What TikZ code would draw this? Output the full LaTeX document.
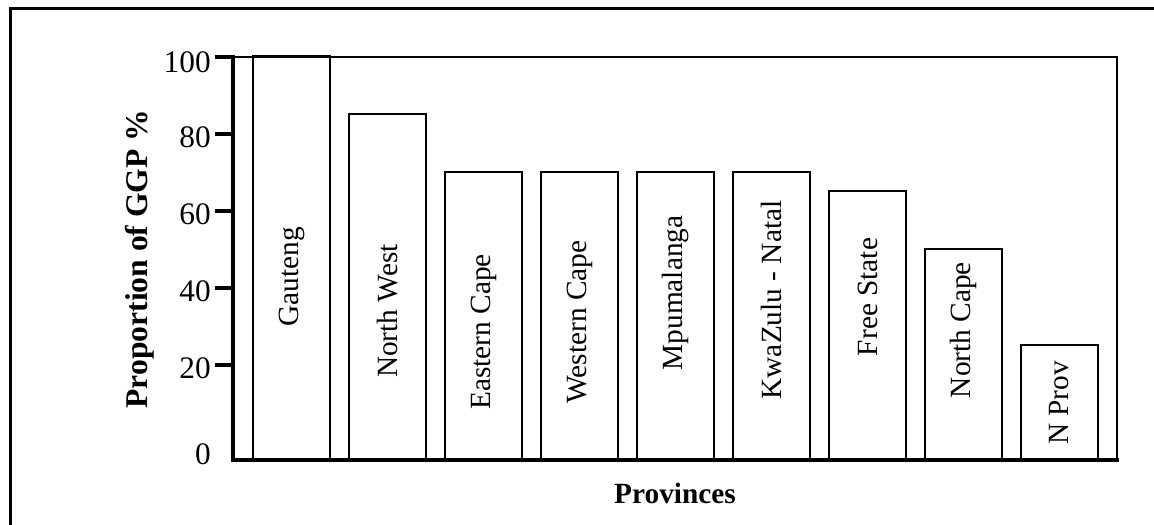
\documentclass[tikz,border=0pt]{standalone}
\usepackage{fontspec}
\setmainfont{Liberation Serif}
\usepackage{tikz}
\usetikzlibrary{positioning}

\tikzset{
	bar/.style={draw=black, line width=1.5pt, fill=white},
	barlabel/.style={rotate=90, inner sep=0pt, font=\fontsize{22}{26}\selectfont},
	ticklabel/.style={anchor=east, inner sep=0pt, font=\fontsize{23.5}{27}\selectfont},
	axistitle/.style={inner sep=0pt, font=\fontsize{22}{26}\selectfont\bfseries}
}

\begin{document}
\begin{tikzpicture}[x=0.75pt, y=-0.75pt]
			\useasboundingbox (0,0) rectangle (1154,525);
			
			% frame
			\draw[line width=2.25pt] (10,525) -- (10,8) -- (1154,8);
			
			% bars
			\draw[bar] (253,460) rectangle (330,56);
			\draw[bar] (349,460) rectangle (426,114);
			\draw[bar] (445,460) rectangle (522,172);
			\draw[bar] (541,460) rectangle (618,172);
			\draw[bar] (637,460) rectangle (714,172);
			\draw[bar] (733,460) rectangle (810,172);
			\draw[bar] (829,460) rectangle (906,191);
			\draw[bar] (925,460) rectangle (1002,249);
			\draw[bar] (1021,460) rectangle (1098,345);
			
			% plot box and axes
			\draw[line width=1.5pt] (233,57) -- (1117,57) -- (1117,460);
			\draw[line width=3pt, line cap=rect] (233,57) -- (233,460) -- (1117,460);
			\draw[line width=3pt] (215,57) -- (233,57);
			\draw[line width=3pt] (215,134) -- (233,134);
			\draw[line width=3pt] (215,211) -- (233,211);
			\draw[line width=3pt] (215,288) -- (233,288);
			\draw[line width=3pt] (215,365) -- (233,365);
			
			% tick labels
			\node[ticklabel] (t100) at (211,62) {100};
			\node[ticklabel] (t80) at (211,137) {80};
			\node[ticklabel] (t60) at (211,214) {60};
			\node[ticklabel] (t40) at (211,291) {40};
			\node[ticklabel] (t20) at (211,368) {20};
			\node[ticklabel] (t0) at (211,454) {0};
			
			% bar labels
			\node[barlabel] (gauteng) at (291.5,277) {Gauteng};
			\node[barlabel] (northwest) at (387.5,311) {North West};
			\node[barlabel] (easterncape) at (483.5,332) {Eastern Cape};
			\node[barlabel] (westerncape) at (579.5,322) {Western Cape};
			\node[barlabel] (mpumalanga) at (675.5,293) {Mpumalanga};
			\node[barlabel] (kwazulu) at (771.5,300) {KwaZulu - Natal};
			\node[barlabel] (freestate) at (867.5,297) {Free State};
			\node[barlabel] (northcape) at (963.5,330) {North Cape};
			\node[barlabel] (nprov) at (1059.5,403) {N Prov};
			
			% axis titles
			\node[axistitle, rotate=90, font=\fontsize{23.7}{27}\selectfont\bfseries] (ytitle) at (140,259) {Proportion of GGP \%};
			\node[axistitle] (xtitle) at (675,493) {Provinces};
		\end{tikzpicture}
\end{document}
